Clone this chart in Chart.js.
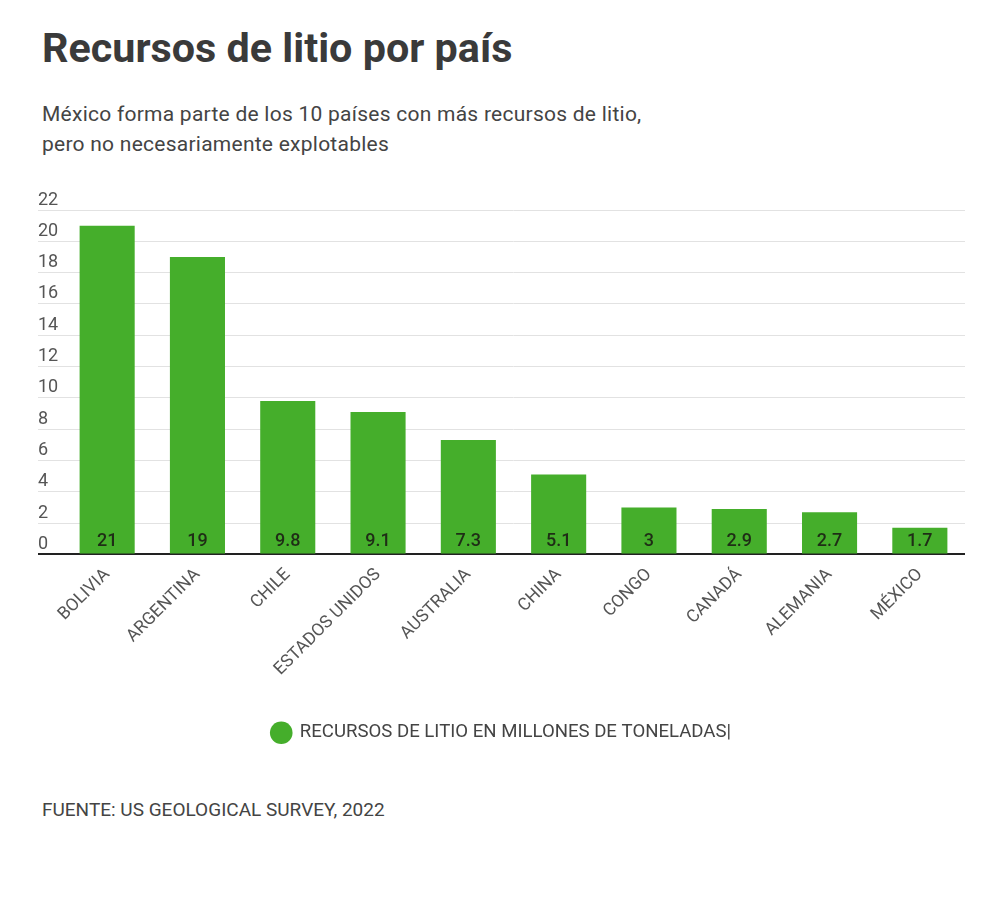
<!DOCTYPE html>
<html lang="es">
<head>
<meta charset="utf-8">
<title>Recursos de litio por país</title>
<script src="https://cdn.jsdelivr.net/npm/chart.js@4.4.1/dist/chart.umd.min.js"></script>
<style>
  html, body { margin: 0; padding: 0; background: #fff; }
  body { width: 1000px; height: 920px; position: relative; font-family: Roboto, "Noto Sans", sans-serif; color: #444; }
  #title { position: absolute; left: 42px; top: 28px; margin: 0; font-size: 41.3px; line-height: 41px; font-weight: 700; color: #3a3a3a; }
  #subtitle { position: absolute; left: 42px; top: 99px; margin: 0; font-size: 21px; line-height: 30px; letter-spacing: 0.25px; color: #444; }
  #chartBox { position: absolute; left: 0; top: 180px; width: 1000px; height: 600px; }
  #source { position: absolute; left: 42px; top: 798px; margin: 0; font-size: 19px; line-height: 24px; color: #444; }
</style>
</head>
<body>
<h1 id="title">Recursos de litio por país</h1>
<p id="subtitle">México forma parte de los 10 países con más recursos de litio,<br>pero no necesariamente explotables</p>
<div id="chartBox"><canvas id="myChart"></canvas></div>
<p id="source">FUENTE: US GEOLOGICAL SURVEY, 2022</p>

<script>
const countries = ['BOLIVIA', 'ARGENTINA', 'CHILE', 'ESTADOS UNIDOS', 'AUSTRALIA', 'CHINA', 'CONGO', 'CANADÁ', 'ALEMANIA', 'MÉXICO'];
const resources = [21, 19, 9.8, 9.1, 7.3, 5.1, 3, 2.9, 2.7, 1.7];
const seriesName = 'RECURSOS DE LITIO EN MILLONES DE TONELADAS|';

const green = '#45ae2b';

// value labels sitting at the bottom of each bar
const barValues = {
	id: 'barValues',
	afterDatasetsDraw(chart) {
		const { ctx } = chart;
		const zero = chart.scales.y.getPixelForValue(0);
		ctx.save();
		ctx.font = '500 18px Roboto';
		ctx.fillStyle = '#1f2d16';
		ctx.textAlign = 'center';
		ctx.textBaseline = 'middle';
		chart.getDatasetMeta(0).data.forEach((bar, i) => {
			ctx.fillText(String(resources[i]), bar.x, zero - 13);
		});
		ctx.restore();
	}
};

const ctx = document.getElementById('myChart');
const myChart = new Chart(ctx, {
	type: 'bar',
	data: {
		labels: countries,
		datasets: [
			{
				label: seriesName,
				data: resources,
				backgroundColor: green,
				borderWidth: 0,
				categoryPercentage: 1,
				barPercentage: 0.61
			}
		]
	},
	options: {
		responsive: true,
		maintainAspectRatio: false,
		animation: false,
		layout: {
			padding: { left: 38, right: 35, top: 30, bottom: 28 }
		},
		scales: {
			x: {
				grid: { display: false },
				border: { display: false },
				ticks: {
					autoSkip: false,
					maxRotation: 45,
					minRotation: 45,
					padding: 2,
					color: '#555',
					font: { family: 'Roboto', size: 17.5 }
				},
				afterFit(scale) {
					scale.height = 159;
				}
			},
			y: {
				min: 0,
				max: 22,
				border: { display: false },
				grid: {
					color: (c) => (c.tick && c.tick.value === 0 ? '#222' : '#e2e2e2'),
					lineWidth: (c) => (c.tick && c.tick.value === 0 ? 2 : 1),
					tickLength: 24
				},
				ticks: {
					stepSize: 2,
					crossAlign: 'far',
					padding: 0,
					labelOffset: -10,
					color: '#555',
					font: { family: 'Roboto', size: 18 }
				},
				afterFit(scale) {
					scale.width = 24;
				}
			}
		},
		plugins: {
			legend: {
				position: 'bottom',
				labels: {
					usePointStyle: true,
					pointStyle: 'circle',
					boxHeight: 16,
					padding: 10,
					color: '#444',
					font: { family: 'Roboto', size: 18.6 }
				}
			},
			tooltip: { enabled: false }
		}
	},
	plugins: [barValues]
});
</script>
</body>
</html>
